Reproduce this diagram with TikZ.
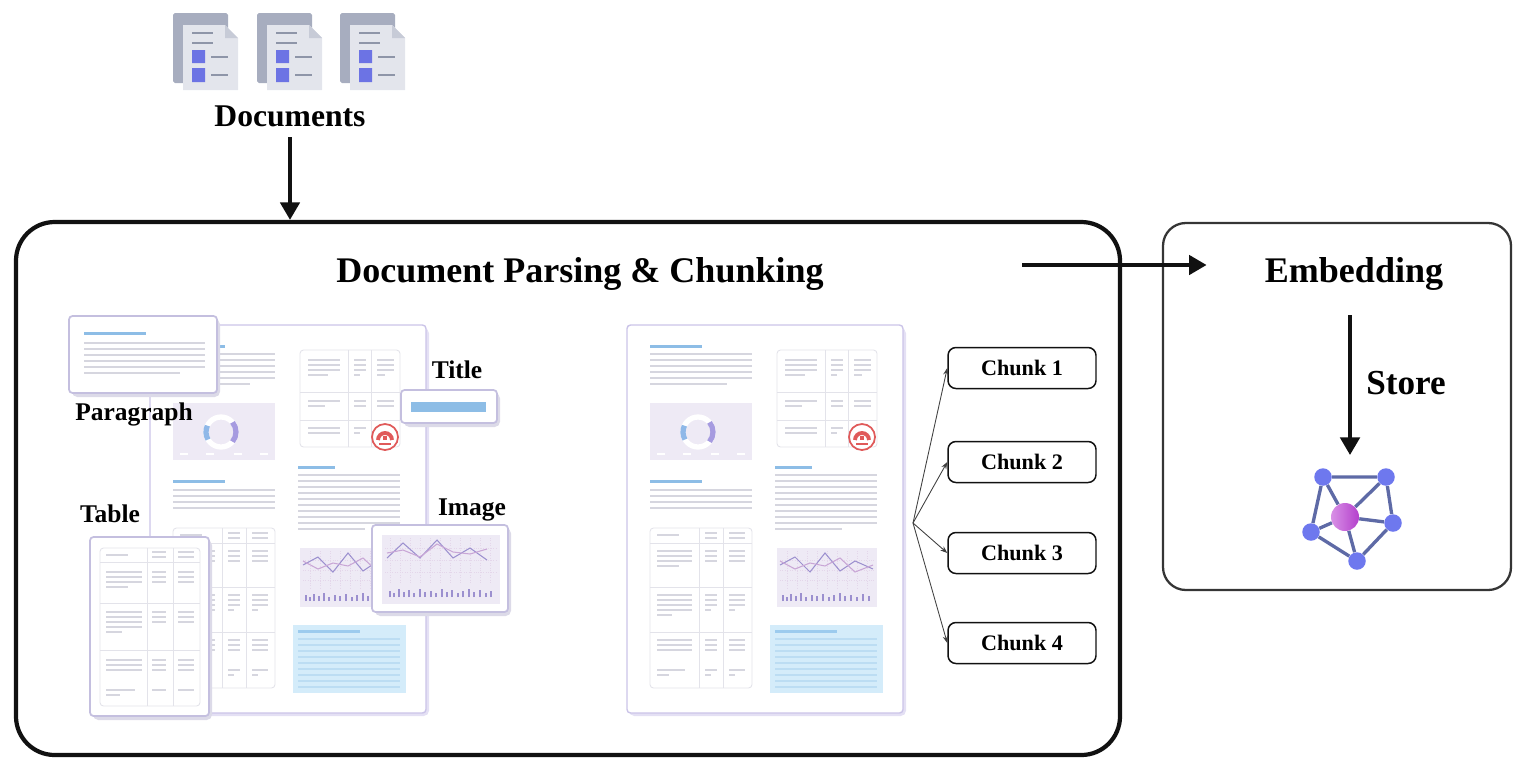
\documentclass[tikz,border=0pt]{standalone}
\usepackage{fontspec}
\setmainfont{Liberation Serif}
\usetikzlibrary{arrows.meta,fit,calc}

\definecolor{inkline}{HTML}{111111}
\definecolor{sheetedge}{HTML}{CBC4E8}
\definecolor{sheetshade}{HTML}{E4E0F4}
\definecolor{cardedge}{HTML}{C4BFDF}
\definecolor{cardshade}{HTML}{DCDAE8}
\definecolor{headblue}{HTML}{8DBDE6}
\definecolor{textgray}{HTML}{D6D6DF}
\definecolor{gridgray}{HTML}{E3E3EA}
\definecolor{chartbg}{HTML}{EEEAF5}
\definecolor{chartgrid}{HTML}{E4D6EA}
\definecolor{donutblue}{HTML}{8FB8E8}
\definecolor{donutviolet}{HTML}{A69BE0}
\definecolor{stampred}{HTML}{E05A5A}
\definecolor{noteblue}{HTML}{D4ECFA}
\definecolor{notebar}{HTML}{9CCBEE}
\definecolor{noteline}{HTML}{BCDDF3}
\definecolor{plotviolet}{HTML}{9C90CF}
\definecolor{plotpink}{HTML}{C9A6D6}
\definecolor{iconback}{HTML}{A7ADBF}
\definecolor{iconfront}{HTML}{E3E5EC}
\definecolor{iconfold}{HTML}{C7CBD7}
\definecolor{iconline}{HTML}{8E95A8}
\definecolor{iconblue}{HTML}{6C73E4}
\definecolor{vecnode}{HTML}{6E78EE}
\definecolor{vecedge}{HTML}{5E6AA6}
\definecolor{hubleft}{HTML}{D890E6}
\definecolor{hubright}{HTML}{B440CC}

\tikzset{
  stagebox/.style={draw=inkline, line width=2.4pt, rounded corners=22pt, inner sep=0pt},
  embbox/.style={draw=inkline!85, line width=1.3pt, rounded corners=13pt, inner sep=0pt},
  heading/.style={font=\bfseries\fontsize{20.5}{24}\selectfont, inner sep=0pt, anchor=base},
  lbl/.style={font=\bfseries\fontsize{14.5}{16}\selectfont, inner sep=0pt, anchor=base},
  chunkbox/.style={draw=inkline, line width=0.85pt, rounded corners=4.5pt, fill=white,
    minimum width=2.96cm, minimum height=0.82cm, inner sep=0pt,
    font=\bfseries\fontsize{12.6}{14}\selectfont},
  mainarrow/.style={draw=inkline, line width=2.2pt, -{Triangle[length=10pt,width=11pt]}},
  fanarrow/.style={draw=inkline!80, line width=0.5pt, -{Stealth[length=4pt,width=3pt]}},
  headbar/.style={headblue, line width=1.7pt},
  txt/.style={textgray, line width=0.75pt},
  cellrule/.style={draw=gridgray, line width=0.5pt},
  sheet/.style={draw=sheetedge, fill=white, line width=0.8pt, rounded corners=2pt},
  sheetshadow/.style={fill=sheetshade, rounded corners=3pt},
  card/.style={draw=cardedge, fill=white, line width=1pt, rounded corners=2pt},
  cardshadow/.style={fill=cardshade, rounded corners=3pt},
  vnode/.style={circle, fill=vecnode, inner sep=0pt, minimum size=0.35cm},
  vhub/.style={circle, left color=hubleft, right color=hubright, inner sep=0pt, minimum size=0.56cm},
  vedge/.style={draw=vecedge, line width=1.9pt},
}

% short grey text stubs: x from, x to, list of y
\newcommand\cellstubs[3]{\foreach \sy in {#3}{\draw[txt] (#1,\sy) -- (#2,\sy);}}

% one document icon, origin at the top-left of the back sheet
\newcommand\docicon{%
  \fill[iconback, rounded corners=1pt] (0,0) rectangle (55,70);
  \fill[iconfront] (10,12) -- (52,12) -- (65,25) -- (65,77) -- (10,77) -- cycle;
  \fill[iconfold] (52,12) -- (52,25) -- (65,25) -- cycle;
  \draw[iconline, line width=1.3pt] (19,20) -- (40,20) (19,30) -- (40,30)
     (38,44) -- (55,44) (38,62) -- (55,62);
  \fill[iconblue] (19,37) rectangle (32,50) (19,55) rectangle (32,69);
}

% a full report page, origin at its top-left corner (276 x 388)
\newcommand\sheetbody{%
  \fill[sheetshadow] (2,3) rectangle (279,391);
  \draw[sheet] (0,0) rectangle (276,388);
  % left column: heading and paragraph
  \draw[headbar] (23,21) -- (75,21);
  \cellstubs{23}{125}{29,35,41,47,53}
  \draw[txt] (23,59) -- (100,59);
  % donut chart panel
  \fill[chartbg] (23,78) rectangle (125,135);
  \draw[white, line width=3pt] (71,107) circle [radius=15];
  \draw[donutblue, line width=3pt] (71,107) ++(150:15) arc [start angle=150, end angle=205, radius=15];
  \draw[donutviolet, line width=3pt] (71,107) ++(-40:15) arc [start angle=-40, end angle=40, radius=15];
  \foreach \tx in {30,56,84,110} {\draw[white, line width=1pt] (\tx,129) -- (\tx+8,129);}
  % second heading and paragraph
  \draw[headbar] (23,156) -- (75,156);
  \cellstubs{23}{125}{165,171,177,183}
  % lower table
  \draw[cellrule, rounded corners=2pt] (23,203) rectangle (125,363);
  \draw[cellrule] (72,203) -- (72,363) (96,203) -- (96,363)
     (23,218) -- (125,218) (23,262) -- (125,262) (23,307) -- (125,307);
  \cellstubs{30}{52}{210}
  \cellstubs{78}{90}{208,213}
  \cellstubs{102}{118}{208,213}
  \cellstubs{30}{65}{226,231,236}
  \cellstubs{30}{52}{241}
  \cellstubs{78}{90}{226,231,236}
  \cellstubs{102}{118}{226,231,236}
  \cellstubs{30}{65}{270,275,280,285}
  \cellstubs{30}{45}{290}
  \cellstubs{78}{90}{270,275,280}
  \cellstubs{78}{84}{285}
  \cellstubs{102}{118}{270,275,280}
  \cellstubs{102}{108}{285}
  \cellstubs{30}{65}{315,320,325}
  \cellstubs{30}{58}{345}
  \cellstubs{30}{42}{350}
  \cellstubs{78}{90}{315,320,325,345}
  \cellstubs{78}{84}{350}
  \cellstubs{102}{118}{315,320,325,345}
  \cellstubs{102}{108}{350}
  % upper right table
  \draw[cellrule, rounded corners=2pt] (150,25) rectangle (250,122);
  \draw[cellrule] (198,25) -- (198,122) (221,25) -- (221,122)
     (150,67) -- (250,67) (150,95) -- (250,95);
  \cellstubs{158}{190}{35,40,45}
  \cellstubs{158}{178}{50}
  \cellstubs{204}{216}{35,40,45}
  \cellstubs{204}{210}{50}
  \cellstubs{227}{244}{35,40,45}
  \cellstubs{227}{235}{50}
  \cellstubs{158}{190}{76}
  \cellstubs{158}{175}{81}
  \cellstubs{204}{216}{76,81}
  \cellstubs{227}{244}{76,81}
  \cellstubs{158}{190}{103,108}
  \cellstubs{204}{216}{103}
  \cellstubs{204}{210}{108}
  % seal
  \draw[stampred, fill=white, line width=1pt] (235,112) circle [radius=13];
  \draw[stampred, line width=2.2pt] (235,115) ++(180:7) arc [start angle=180, end angle=360, radius=7];
  \fill[stampred] (233,111) rectangle (237,115);
  \draw[stampred, line width=1pt] (229,119) -- (241,119);
  % right column: heading and paragraph
  \draw[headbar] (148,142) -- (185,142);
  \cellstubs{148}{250}{150,156,162,168,174,180,186,192,198}
  \draw[txt] (148,204) -- (215,204);
  % line chart panel
  \fill[chartbg] (150,223) rectangle (250,282);
  \foreach \gx in {160,170,...,240} {\draw[chartgrid, line width=0.4pt, densely dotted] (\gx,226) -- (\gx,265);}
  \foreach \gy in {235,245,255} {\draw[chartgrid, line width=0.4pt, densely dotted] (153,\gy) -- (247,\gy);}
  \draw[plotviolet, line width=0.6pt] (153,240) -- (168,232) -- (183,247) -- (198,228) -- (213,246) -- (228,236) -- (246,244);
  \draw[plotpink, line width=0.6pt] (153,236) -- (168,244) -- (183,238) -- (198,241) -- (213,233) -- (228,247) -- (246,240);
  \foreach \bx/\bh in {156/6,160/4,164/7,169/5,174/8,179/4,185/6,190/5,196/7,202/4,207/6,213/8,218/5,224/6,230/4,236/7,242/5} {\draw[plotviolet, line width=0.8pt] (\bx,276) -- (\bx,276-\bh);}
  % highlighted note block
  \fill[noteblue] (143,300) rectangle (256,368);
  \draw[notebar, line width=1.7pt] (148,306) -- (210,306);
  \foreach \ny in {314,320,...,362} {\draw[noteline, line width=0.6pt] (148,\ny) -- (250,\ny);}
}

\begin{document}
\begin{tikzpicture}[x=0.02cm, y=-0.02cm]
\useasboundingbox (0,0) rectangle (1514,758);

% ---------- frames ----------
\coordinate (p1) at (16,222);
\coordinate (p2) at (1120,755);
\node[stagebox, fit=(p1)(p2)] (parse) {};
\coordinate (e1) at (1163,223);
\coordinate (e2) at (1511,590);
\node[embbox, fit=(e1)(e2)] (embed) {};

% ---------- input documents ----------
\foreach \ix in {173,257,340} {
  \begin{scope}[shift={(\ix,13)}]\docicon\end{scope}
}
\node[font=\bfseries\fontsize{18}{20}\selectfont, inner sep=0pt, anchor=base] (docs) at (290,126) {Documents};
\draw[mainarrow, shorten <=6pt] (docs.south) -- (docs.south |- parse.north);

% ---------- parsing stage ----------
\node[heading] (ptitle) at (580,282) {Document Parsing \& Chunking};

% source page with its detected regions
\begin{scope}[shift={(150,325)}]\sheetbody\end{scope}

% paragraph region
\fill[cardshadow] (72,319) rectangle (220,397);
\draw[card] (69,316) rectangle (217,393);
\draw[headbar] (84,333) -- (146,333);
\cellstubs{84}{205}{343,349,355,361,367}
\draw[txt] (84,373) -- (180,373);

% title region
\fill[cardshadow] (404,393) rectangle (500,427);
\draw[card] (401,390) rectangle (497,423);
\fill[headblue] (411,402) rectangle (486,412);

% table region
\fill[cardshadow] (93,540) rectangle (212,720);
\draw[card] (90,537) rectangle (209,716);
\draw[cellrule, rounded corners=2pt] (100,548) rectangle (200,706);
\draw[cellrule] (147,548) -- (147,706) (173,548) -- (173,706)
   (100,562) -- (200,562) (100,603) -- (200,603) (100,650) -- (200,650);
\cellstubs{106}{128}{555}
\cellstubs{152}{166}{552,557}
\cellstubs{178}{194}{552,557}
\cellstubs{106}{142}{572,577,582}
\cellstubs{106}{128}{587}
\cellstubs{152}{166}{572,577,582}
\cellstubs{178}{194}{572,577,582}
\cellstubs{106}{142}{612,617,622,627}
\cellstubs{106}{122}{632}
\cellstubs{152}{166}{612,617,622}
\cellstubs{178}{194}{612,617,622}
\cellstubs{106}{142}{660,665,670}
\cellstubs{106}{135}{690}
\cellstubs{106}{120}{695}
\cellstubs{152}{166}{660,665,670,690}
\cellstubs{178}{194}{660,665,670,690}

% image region
\fill[cardshadow] (375,528) rectangle (511,616);
\draw[card] (372,525) rectangle (508,612);
\fill[chartbg] (382,535) rectangle (500,604);
\foreach \gx in {390,400,...,490} {\draw[chartgrid, line width=0.4pt, densely dotted] (\gx,538) -- (\gx,584);}
\foreach \gy in {548,560,572} {\draw[chartgrid, line width=0.4pt, densely dotted] (385,\gy) -- (497,\gy);}
\draw[plotviolet, line width=0.6pt] (387,558) -- (403,543) -- (420,558) -- (437,540) -- (453,558) -- (470,548) -- (487,560);
\draw[plotpink, line width=0.6pt] (387,553) -- (403,550) -- (420,557) -- (437,544) -- (453,552) -- (470,554) -- (487,549);
\foreach \bx/\bh in {390/6,394/4,399/8,404/5,409/7,414/4,420/8,425/5,431/6,436/4,442/8,447/5,452/7,458/4,463/6,469/8,474/5,480/7,486/4,491/6} {\draw[plotviolet, line width=0.8pt] (\bx,597) -- (\bx,597-\bh);}

% region labels
\node[lbl] (lpara) at (134,420) {Paragraph};
\node[lbl] (ltitle) at (457,378) {Title};
\node[lbl] (ltable) at (110,522) {Table};
\node[lbl] (limage) at (472,515) {Image};

% parsed page and its chunks
\begin{scope}[shift={(627,325)}]\sheetbody\end{scope}
\node[chunkbox] (c1) at (1022,368) {Chunk 1};
\node[chunkbox] (c2) at (1022,462) {Chunk 2};
\node[chunkbox] (c3) at (1022,553) {Chunk 3};
\node[chunkbox] (c4) at (1022,643) {Chunk 4};
\coordinate (fan) at (913,523);
\foreach \c in {c1,c2,c3,c4} {\draw[fanarrow] (fan) -- (\c.west);}

% ---------- embedding stage ----------
\node[heading] (etitle) at (1354,282) {Embedding};
\coordinate (handoff) at (1022,265);
\draw[mainarrow] (handoff) -- ($(handoff -| etitle.west)+(-58,0)$);

% vector store icon
\node[vnode] (v1) at (1323,477) {};
\node[vnode] (v2) at (1386,477) {};
\node[vnode] (v3) at (1311,532) {};
\node[vnode] (v4) at (1393,523) {};
\node[vnode] (v5) at (1357,561) {};
\node[vhub] (hub) at (1345,517) {};
\draw[vedge] (v1) -- (v2) (v1) -- (v3) (v2) -- (v4) (v3) -- (v5) (v4) -- (v5)
  (hub) -- (v1) (hub) -- (v2) (hub) -- (v3) (hub) -- (v4) (hub) -- (v5);

\coordinate (storetop) at (1350,315);
\coordinate (storeend) at (1350,455);
\draw[mainarrow] (storetop) -- (storeend);
\node[heading, font=\bfseries\fontsize{20}{24}\selectfont] (lstore) at (1406,394) {Store};
\end{tikzpicture}
\end{document}
